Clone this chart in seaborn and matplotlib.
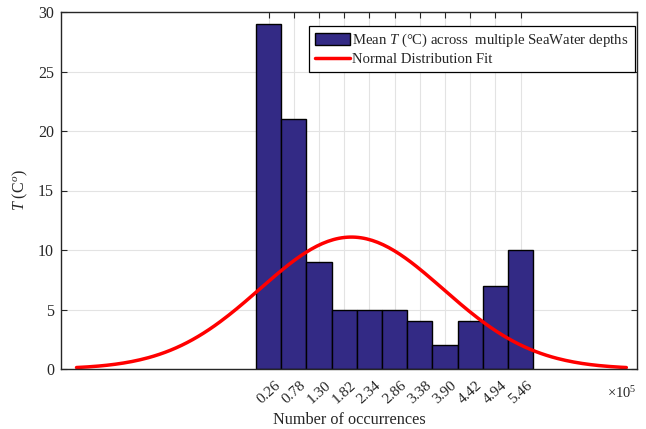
import numpy as np
import pandas as pd
import matplotlib
matplotlib.use("Agg")
import matplotlib.pyplot as plt
import seaborn as sns

# ---- data (values x 1e5 on the x axis) ----
bin_centers = [0.26, 0.78, 1.30, 1.82, 2.34, 2.86, 3.38, 3.90, 4.42, 4.94, 5.46]
bin_counts = [29, 21, 9, 5, 5, 5, 4, 2, 4, 7, 10]
tick_labels = ["0.26", "0.78", "1.30", "1.82", "2.34", "2.86", "3.38", "3.90", "4.42", "4.94", "5.46"]
bin_width = 0.52
fit_mu = 1.97
fit_sigma = 1.89
y_ticks = [0, 5, 10, 15, 20, 25, 30]

sns.set_theme(style="white")
plt.rcParams["font.family"] = ["Liberation Serif", "DejaVu Serif"]
plt.rcParams["mathtext.fontset"] = "custom"
plt.rcParams["mathtext.rm"] = "Liberation Serif"
plt.rcParams["mathtext.it"] = "Liberation Serif:italic"

fig = plt.figure(figsize=(6.46, 4.29), dpi=100)
ax = fig.add_axes([61 / 646, 1 - 369 / 429, (637 - 61) / 646, (369 - 12) / 429])

df = pd.DataFrame({"center": bin_centers, "count": bin_counts})
edges = np.round(np.array(bin_centers) - bin_width / 2, 4).tolist() + [round(bin_centers[-1] + bin_width / 2, 4)]
sns.histplot(data=df, x="center", weights="count", bins=edges, ax=ax,
             color="#332a85", edgecolor="black", linewidth=1.0, alpha=1.0,
             label="Mean $T$ (\u00b0C) across  multiple SeaWater depths")

# normal distribution fit (scaled to counts)
n_total = sum(bin_counts)
xs = np.linspace(fit_mu - 3 * fit_sigma, fit_mu + 3 * fit_sigma, 200)
ys = n_total * bin_width / (fit_sigma * np.sqrt(2 * np.pi)) * np.exp(-0.5 * ((xs - fit_mu) / fit_sigma) ** 2)
sns.lineplot(x=xs, y=ys, ax=ax, color="red", linewidth=2.5, label="Normal Distribution Fit")

ax.set_xlim(-4.02, 7.86)
ax.set_ylim(0, 30)
ax.set_xticks(bin_centers)
ax.set_xticklabels(tick_labels, rotation=42, ha="center", fontsize=11)
ax.set_yticks(y_ticks)
ax.set_yticklabels([str(v) for v in y_ticks], fontsize=11.5)
ax.grid(True, color="#e3e3e3", linewidth=0.8)
ax.set_axisbelow(True)
ax.tick_params(direction="in", length=4, width=0.8, top=True, right=True,
               bottom=True, left=True, colors="#262626")
ax.tick_params(axis="x", pad=7)
ax.tick_params(axis="y", pad=5)
for s in ax.spines.values():
    s.set_color("#262626")
    s.set_linewidth(1.0)
    s.set_visible(True)

ax.set_xlabel("Number of occurrences", fontsize=11.7, color="#262626", labelpad=4)
ax.set_ylabel("$T$ (C$^{o}$)", fontsize=11.5, color="#262626", labelpad=6)
ax.text(1.0, -0.045, r"$\times$10$^{5}$", transform=ax.transAxes, ha="right", va="top",
        fontsize=10.5, color="#262626")

handles, labels = ax.get_legend_handles_labels()
order = [labels.index(l) for l in ["Mean $T$ (\u00b0C) across  multiple SeaWater depths", "Normal Distribution Fit"]]
leg = ax.legend([handles[i] for i in order], [labels[i] for i in order],
                loc="upper right", bbox_to_anchor=(0.996, 0.961), borderaxespad=0,
                fontsize=10.6, frameon=True, fancybox=False, framealpha=1,
                edgecolor="black", handlelength=2.4, handleheight=0.9, handletextpad=0.15,
                borderpad=0.4, labelspacing=0.2)
leg.get_frame().set_linewidth(0.9)

fig.savefig("out.png", dpi=100)
